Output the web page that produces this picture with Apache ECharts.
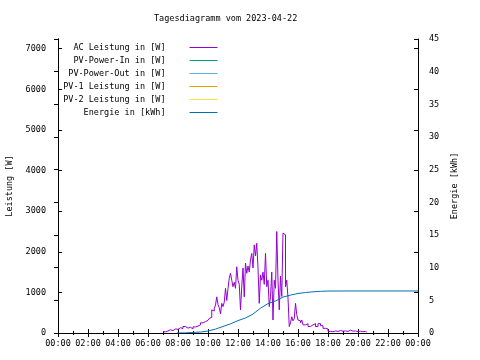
<!DOCTYPE html>
<html><head><meta charset="utf-8">
<script src="https://cdn.jsdelivr.net/npm/echarts@6/dist/echarts.min.js"></script>
<style>html,body{margin:0;padding:0;background:#fff}#c{width:480px;height:360px}</style>
</head><body><div id="c"></div>
<script>
// ---- data ----
const titleText = 'Tagesdiagramm vom 2023-04-22';
const seriesNames = ['AC Leistung in [W]','PV-Power-In in [W]','PV-Power-Out in [W]','PV-1 Leistung in [W]','PV-2 Leistung in [W]','Energie in [kWh]'];
const seriesColors = ['#9400d3','#009e73','#56b4e9','#e69f00','#f0e442','#0072b2'];
const acTimes = ['07:00','07:10','07:20','07:30','07:40','07:50','08:00','08:10','08:20','08:30','08:40','08:50',
 '09:00','09:10','09:20','09:30','09:40','09:50',
 '10:00','10:05','10:10','10:15','10:20','10:25','10:30','10:35','10:40','10:45','10:50','10:55',
 '11:00','11:05','11:10','11:15','11:20','11:25','11:30','11:35','11:40','11:45','11:50','11:55',
 '12:00','12:05','12:10','12:15','12:20','12:25','12:30','12:35','12:40','12:45','12:50','12:55',
 '13:00','13:05','13:10','13:15','13:20','13:25','13:30','13:35','13:40','13:45','13:50','13:55',
 '14:00','14:05','14:10','14:15','14:20','14:25','14:30','14:35','14:40','14:45','14:50','14:55',
 '15:00','15:05','15:10','15:15','15:20','15:25','15:30','15:35','15:40','15:45','15:50','15:55',
 '16:00','16:05','16:10','16:15','16:20','16:30','16:40','16:50','17:00','17:10','17:20','17:30','17:40','17:50',
 '18:00','18:10','18:20','18:30','18:40','18:50','19:00','19:10','19:20','19:30','19:40','19:50','20:00','20:10','20:20','20:30','20:35'];
const acPower = [30,50,80,60,100,90,130,110,160,120,140,100,
 150,170,200,250,280,310,
 340,360,385,570,540,600,690,890,700,620,470,730,
 650,760,1100,800,1100,1350,1470,1300,1140,1250,1100,1630,
 1300,1200,570,1140,1600,890,1720,1470,1650,1500,1800,1960,
 1600,2170,1900,2210,1600,730,1430,1300,1500,1200,1960,1140,
 1300,650,890,1500,320,1300,1100,2500,1300,570,1400,900,
 2460,2420,1140,1300,860,160,250,400,300,350,730,450,
 320,300,250,320,200,230,160,200,230,160,230,180,115,100,
 40,30,50,40,60,45,50,40,70,45,50,35,45,30,40,25,20];
const energyTimes = ['07:55','08:30','09:00','09:30','10:00','10:30','11:00','11:30','12:00','12:30','13:00','13:30',
 '14:00','14:30','15:00','15:30','16:00','16:30','17:00','17:30','18:00','19:00','24:00'];
const energyValues = [0,0.02,0.08,0.15,0.3,0.6,1.0,1.4,1.9,2.3,2.9,3.8,
 4.5,4.9,5.5,5.8,6.05,6.2,6.3,6.38,6.42,6.43,6.43];
const pvPowerIn = [], pvPowerOut = [], pv1Power = [], pv2Power = [];
const powerMax = 7240, energyMax = 45;

// ---- chart ----
const F = 'DejaVu Sans Mono', FS = 8.5;
const toMin = t => { const p = t.split(':'); return (+p[0]) * 60 + (+p[1]); };
const pairs = (ts, vs) => ts.map((t, i) => [toMin(t), vs[i]]);
const fmtTime = v => { const h = Math.round(v / 60) % 24; return (h < 10 ? '0' : '') + h + ':00'; };
const lineAxis = { lineStyle: { color: '#000', width: 1 } };
const tickIn = { inside: true, length: 4, lineStyle: { color: '#000' } };
const lab = { fontFamily: F, fontSize: FS, color: '#000' };

const chart = echarts.init(document.getElementById('c'), null, { renderer: 'canvas' });
const mk = (i, data, yIdx, step) => ({
  name: seriesNames[i], type: 'line', step: step, symbol: 'none', yAxisIndex: yIdx,
  lineStyle: { width: 1, color: seriesColors[i] }, itemStyle: { color: seriesColors[i] },
  data: data, animation: false
});
chart.setOption({
  animation: false,
  backgroundColor: '#fff',
  title: { text: titleText, left: 149, top: 9, textStyle: { fontFamily: F, fontSize: FS, fontWeight: 'normal', color: '#000' } },
  grid: { left: 58, top: 39, width: 360, height: 294, outerBoundsMode: 'none', containLabel: false },
  legend: {
    orient: 'vertical', right: 257, top: 38, align: 'right',
    itemWidth: 28, itemHeight: 9, itemGap: 4,
    itemStyle: { opacity: 0 },
    lineStyle: { width: 1 },
    textStyle: { fontFamily: F, fontSize: FS, lineHeight: 9, color: '#000', padding: [0, 19, 0, 0] },
    data: seriesNames
  },
  xAxis: [
    { type: 'value', min: 0, max: 1440, interval: 120, axisLine: lineAxis, axisTick: tickIn,
      minorTick: { show: true, splitNumber: 2, length: 2, lineStyle: { color: '#000' } },
      splitLine: { show: false }, minorSplitLine: { show: false },
      axisLabel: Object.assign({ margin: 6, formatter: fmtTime }, lab) },
    { type: 'value', position: 'top', min: 0, max: 1440, interval: 120, axisLine: lineAxis, axisTick: tickIn,
      minorTick: { show: true, splitNumber: 2, length: 2, lineStyle: { color: '#000' } },
      splitLine: { show: false }, axisLabel: { show: false } }
  ],
  yAxis: [
    { type: 'value', position: 'left', min: 0, max: powerMax, interval: 1000,
      name: 'Leistung [W]', nameLocation: 'middle', nameGap: 43.5, nameRotate: 90, nameTextStyle: lab,
      axisLine: Object.assign({ show: true }, lineAxis), axisTick: tickIn, splitLine: { show: false },
      axisLabel: Object.assign({ margin: 12, showMaxLabel: false, formatter: v => (v % 1000 === 0 ? String(v) : '') }, lab) },
    { type: 'value', position: 'right', min: 0, max: energyMax, interval: 5,
      name: 'Energie [kWh]', nameLocation: 'middle', nameGap: 29.5, nameRotate: 90, nameTextStyle: lab,
      axisLine: Object.assign({ show: true }, lineAxis), axisTick: tickIn, splitLine: { show: false },
      axisLabel: Object.assign({ margin: 11 }, lab) },
    { type: 'value', position: 'right', min: 0, max: powerMax, interval: 1000,
      axisLine: Object.assign({ show: true }, lineAxis), axisTick: tickIn, splitLine: { show: false },
      axisLabel: { show: false } }
  ],
  series: [
    mk(0, pairs(acTimes, acPower), 0, 'end'),
    mk(1, pvPowerIn, 0, 'end'),
    mk(2, pvPowerOut, 0, 'end'),
    mk(3, pv1Power, 0, 'end'),
    mk(4, pv2Power, 0, 'end'),
    mk(5, pairs(energyTimes, energyValues), 1, false)
  ]
});
</script>
</body></html>
